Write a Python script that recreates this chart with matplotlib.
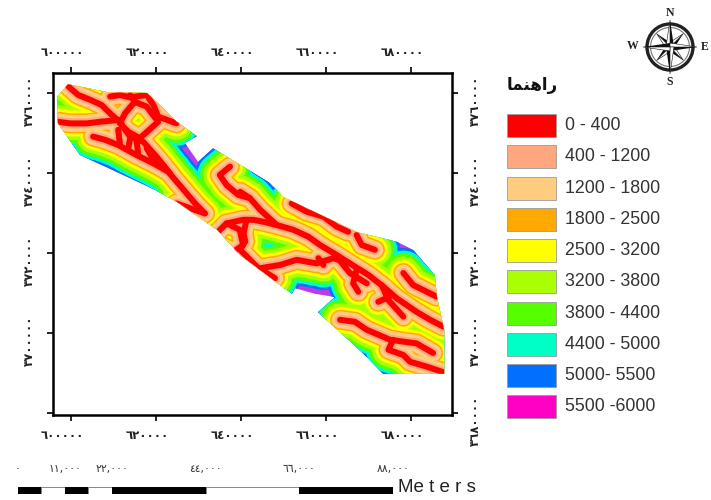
import matplotlib
matplotlib.use("Agg")
import matplotlib.pyplot as plt
from matplotlib.patches import Polygon, Rectangle, Circle
from matplotlib.transforms import ScaledTranslation

# map coordinates in km (easting, northing)
outline = [(599.3,3762.2),(608.5,3760.2),(617.9,3760.0),(624.9,3752.8),(629.6,3749.2),(626.8,3747.5),
           (629.9,3742.8),(633.4,3746.2),(646.8,3737.5),(649.9,3734.0),(667.3,3725.2),(676.7,3722.8),
           (680.5,3720.8),(685.6,3714.5),(686.1,3709.0),(687.8,3700.8),(687.8,3689.8),(673.4,3689.8),
           (669.6,3694.0),(666.1,3697.5),(658.1,3705.2),(662.1,3709.0),(657.4,3709.8),(652.7,3711.2),
           (652.0,3709.8),(649.2,3712.0),(639.8,3719.5),(634.4,3725.8),(624.9,3732.8),(619.8,3735.8),
           (602.1,3744.5),(596.9,3752.5),(596.7,3759.0)]

streams = [
    [(599.4,3761.6),(601.7,3759.5),(604.5,3758.3),(607.2,3757),(609.6,3754.5),(611.9,3752.4)],
    [(597,3752.8),(599.8,3752.4),(603.7,3752.4),(606.8,3752.8),(611.5,3753.3)],
    [(609.2,3759.1),(611.5,3759.5),(613.9,3758.9),(617.8,3759.5),(619.4,3757),(620.5,3754.1),(624.8,3752.4)],
    [(615,3757.8),(612.7,3754.9),(611.5,3752.4),(613.5,3750.3),(616.2,3748.7),(620.5,3752.8),(617.8,3756.6),(615,3757.8),(613.9,3759.5)],
    [(605.2,3749.1),(608,3748.3),(611.1,3747),(615.4,3744.5),(619.4,3742.4),(622.9,3740.3),(625.2,3737.4),(627.2,3734.9),(629.2,3732.4),(631.5,3729.9)],
    [(624.8,3732.4),(628,3731.2),(631.5,3729.9)],
    [(611.9,3752),(613.9,3749.1),(617,3747.8),(620.1,3744.1),(623.3,3739.9)],
    [(611.1,3750.8),(611.5,3747.4)],
    [(613.9,3748.7),(613.5,3746.2)],
    [(615.4,3748.3),(615.8,3744.9)],
    [(617.8,3746.2),(619.4,3743.3)],
    [(620.5,3743.3),(622.5,3740.8)],
    [(637.4,3741.6),(635,3739.5),(636.6,3737),(639.4,3734.5),(642.1,3733.7)],
    [(639.8,3735.3),(642.1,3733.7),(644.5,3730.8),(648.4,3727),(652.3,3725.8),(655.8,3724.1),(658.6,3722),(662.5,3719.5),
     (665.6,3717.4),(670,3714.5),(673.5,3711.6),(676.6,3708.7),(681.3,3705.3),(684.5,3703.3),(687.6,3701.6)],
    [(634.6,3725.3),(636.6,3727.4),(640.5,3728.3),(642.9,3728.3),(645.3,3727.8),(648.4,3727)],
    [(636.6,3727.4),(639.7,3725.8),(640.5,3722),(638.2,3720.3),(635.8,3721.6)],
    [(641.3,3728.3),(640.6,3724.9),(641,3722.9),(639.8,3720.8),(643.7,3716.6),(646.8,3714.5),(648,3713.7)],
    [(644.5,3716.2),(649.2,3717),(653.1,3718.3),(657.8,3717.4),(661.7,3718.7),(665.6,3717.4)],
    [(658.2,3718.7),(659.4,3717)],
    [(667.2,3715.8),(666.4,3712.4),(667.6,3710.3)],
    [(662.5,3719.1),(665.6,3715),(669.6,3712.4)],
    [(673.1,3712),(674.7,3708.2),(678.2,3704.1)],
    [(672.3,3707.8),(675,3709.1)],
    [(651.9,3732.4),(655.5,3730.3),(659.4,3729.1),(662.5,3726.6),(665.2,3725.3)],
    [(667.2,3724.5),(668.4,3722),(671.5,3720.8)],
    [(678.2,3715),(680.5,3712),(686,3709.1)],
    [(663.3,3703.3),(666.8,3702.8),(669.6,3700.8),(675.1,3698.3),(681.3,3697.4),(685.2,3695)],
    [(675.8,3698.3),(674.7,3695.8),(678.2,3694.5),(679.8,3692.8),(683.7,3691.6),(687.6,3690.2)],
]

classes = ["0 - 400","400 - 1200","1200 - 1800","1800 - 2500","2500 - 3200",
           "3200 - 3800","3800 - 4400","4400 - 5000","5000- 5500","5500 -6000"]
colors = ["#FF0000","#FFA77F","#FFCC80","#FFAA00","#FFFF00",
          "#AAFF00","#55FF00","#00FFC5","#0070FF","#FF00C5"]
band_width_px = [6, 10, 17, 20, 26, 33, 39, 45, 50]   # stroke widths of the buffer bands

east_ticks = [600, 620, 640, 660, 680]
east_labels = ["٦٠٠٠٠٠","٦٢٠٠٠٠","٦٤٠٠٠٠","٦٦٠٠٠٠","٦٨٠٠٠٠"]
north_ticks = [3760, 3740, 3720, 3700, 3680]
north_labels = ["٣٧٦٠٠٠٠","٣٧٤٠٠٠٠","٣٧٢٠٠٠٠","٣٧٠٠٠٠٠","٣٦٨٠٠٠٠"]

scale_edges = [0, 5.5, 11, 16.5, 22, 44, 66, 88]
scale_ticks = [0, 11, 22, 44, 66, 88]
scale_labels = ["٠","١١,٠٠٠","٢٢,٠٠٠","٤٤,٠٠٠","٦٦,٠٠٠","٨٨,٠٠٠"]

W, H = 711, 500
fig = plt.figure(figsize=(W/100, H/100), dpi=100)
fig.patch.set_facecolor("white")

def box(l, t, r, b):
    return [l/W, (H-b)/H, (r-l)/W, (b-t)/H]

# map frame
ax = fig.add_axes(box(53, 73, 452, 415))
ax.set_xlim(595.76, 689.65)
ax.set_ylim(3679.5, 3765)
clip = Polygon(outline, closed=True, facecolor="#B83CE8", edgecolor="none", zorder=1)
ax.add_patch(clip)
for i in range(len(band_width_px)-1, -1, -1):
    for s in streams:
        line, = ax.plot([p[0] for p in s], [p[1] for p in s], color=colors[i],
                        lw=band_width_px[i]*0.72, solid_capstyle="round", solid_joinstyle="round",
                        zorder=2+(8-i))
        line.set_clip_path(clip)
ax.set_xticks(east_ticks, east_labels, fontsize=8.5, fontweight="bold")
ax.set_yticks(north_ticks, north_labels, fontsize=8.5, fontweight="bold", rotation=90, va="center")
ax.tick_params(axis="x", direction="out", length=4, width=1.2, top=True, labeltop=True, pad=6, labelcolor="#222222")
ax.tick_params(axis="y", direction="out", length=4, width=1.2, right=True, labelright=True, pad=8, labelcolor="#222222")
for s in ax.spines.values():
    s.set_linewidth(1.8)
ax.yaxis.get_major_ticks()[-1].label1.set_visible(False)
shift_x = ScaledTranslation(-9/100, 0, fig.dpi_scale_trans)
shift_y = ScaledTranslation(0, -8/100, fig.dpi_scale_trans)
for tk in ax.xaxis.get_major_ticks():
    tk.label1.set_transform(tk.label1.get_transform() + shift_x)
    tk.label2.set_transform(tk.label2.get_transform() + shift_x)
for tk in ax.yaxis.get_major_ticks():
    tk.label1.set_transform(tk.label1.get_transform() + shift_y)
    tk.label2.set_transform(tk.label2.get_transform() + shift_y)

# scale bar
sb = fig.add_axes(box(18, 487, 393, 494))
sb.set_xlim(0, 88); sb.set_ylim(0, 1)
sb.axis("off")
for k in range(len(scale_edges)-1):
    sb.add_patch(Rectangle((scale_edges[k], 0), scale_edges[k+1]-scale_edges[k], 1,
                           facecolor="black" if k % 2 == 0 else "white",
                           edgecolor="black" if k % 2 == 0 else "#888888", lw=0.7))
for v, t in zip(scale_ticks, scale_labels):
    sb.text(v, 3.6, t, ha="center", va="center", fontsize=7.8, color="#333333", clip_on=False)
fig.text(398/W, 1-488/H, "Me t e r s", fontsize=13.5, family="Liberation Sans", ha="left",
         va="center", color="#222222")

# legend
lg = fig.add_axes([0, 0, 1, 1], facecolor="none")
lg.set_xlim(0, W); lg.set_ylim(H, 0); lg.axis("off")
for i, (c, t) in enumerate(zip(colors, classes)):
    y = 114 + i*31.26
    lg.add_patch(Rectangle((507, y), 49, 23, facecolor=c, edgecolor="#9a9a9a", lw=0.6))
    lg.text(565, y+11.5, t, fontsize=12.8, family="Liberation Sans", va="center", ha="left", color="#333333")
lg.text(507, 85, "\uFE8E\uFEE4\uFEE8\uFEEB\uFE8D\uFEAD", fontsize=12, family="DejaVu Sans",
        fontweight="bold", va="center", ha="left", color="#111111")

# north arrow
cx, cy = 670, 47
lg.add_patch(Circle((cx, cy), 23, facecolor="none", edgecolor="#222222", lw=2.4))
lg.add_patch(Circle((cx, cy), 19.5, facecolor="none", edgecolor="#777777", lw=0.8))
d = 0.7071
for ang, (ux, uy), r in [(4,(d,-d),19),(5,(d,d),19),(6,(-d,d),19),(7,(-d,-d),19),
                         (0,(0,-1),27),(1,(1,0),27),(2,(0,1),27),(3,(-1,0),27)]:
    px_, py_ = -uy, ux
    w = 4
    tip = (cx+ux*r, cy+uy*r)
    lg.add_patch(Polygon([(cx, cy), tip, (cx+px_*w, cy+py_*w)], facecolor="#111111", edgecolor="none"))
    lg.add_patch(Polygon([(cx, cy), tip, (cx-px_*w, cy-py_*w)], facecolor="white", edgecolor="#111111", lw=0.4))
for t, x, y in [("N",670,13),("S",670,82),("W",633,46),("E",705,47)]:
    lg.text(x, y, t, fontsize=8.5, family="Liberation Serif", fontweight="bold", ha="center", va="center", color="#222222")

fig.savefig("out.png", dpi=100)
